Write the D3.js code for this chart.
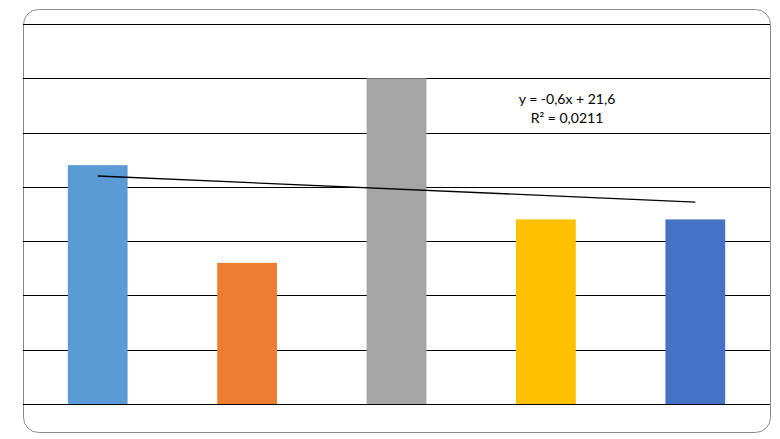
<!DOCTYPE html>
<html>
<head>
<meta charset="utf-8">
<script src="https://cdn.jsdelivr.net/npm/d3@7"></script>
<style>
  html, body { margin: 0; padding: 0; background: #fff; }
  svg { display: block; }
  .grid line { stroke: #000; stroke-width: 1; shape-rendering: crispEdges; }
  .label { font-family: Lato, "Open Sans", sans-serif; font-size: 14px; fill: #000; }
</style>
</head>
<body>
<div id="chart"></div>
<script>
// Chart data
const categories = ["1", "2", "3", "4", "5"];
const values     = [22, 13, 30, 17, 17];
const colors     = ["#5B9BD5", "#ED7D31", "#A5A5A5", "#FFC000", "#4472C4"];
const yTicks     = [0, 5, 10, 15, 20, 25, 30, 35];
const trendLabel = ["y = -0,6x + 21,6", "R² = 0,0211"];

const W = 780, H = 439;
const plot = { left: 23, right: 770, top: 24, bottom: 404 };

const svg = d3.select("#chart").append("svg")
  .attr("width", W).attr("height", H);

// Chart border
svg.append("rect")
  .attr("x", 23.5).attr("y", 9.5)
  .attr("width", 747).attr("height", 423)
  .attr("rx", 15).attr("ry", 15)
  .attr("fill", "#fff")
  .attr("stroke", "#8c8c8c");

const x = d3.scaleBand()
  .domain(categories)
  .range([plot.left, plot.right])
  .paddingInner(0.6).paddingOuter(0.3);

const y = d3.scaleLinear()
  .domain([0, 35])
  .range([plot.bottom, plot.top]);

// Gridlines
svg.append("g").attr("class", "grid")
  .selectAll("line")
  .data(yTicks).join("line")
  .attr("x1", plot.left).attr("x2", plot.right)
  .attr("y1", d => Math.round(y(d)) + 0.5)
  .attr("y2", d => Math.round(y(d)) + 0.5);

// Bars
svg.append("g").selectAll("rect")
  .data(values).join("rect")
  .attr("x", (d, i) => x(categories[i]))
  .attr("width", x.bandwidth())
  .attr("y", d => y(d))
  .attr("height", d => y(0) - y(d))
  .attr("fill", (d, i) => colors[i]);

// Linear trendline (least squares)
const xs = categories.map((c, i) => i + 1);
const mx = d3.mean(xs), my = d3.mean(values);
const slope = d3.sum(xs, (v, i) => (v - mx) * (values[i] - my)) / d3.sum(xs, v => (v - mx) ** 2);
const icpt = my - slope * mx;
const cx = i => x(categories[i]) + x.bandwidth() / 2;

svg.append("line")
  .attr("x1", cx(0)).attr("y1", y(icpt + slope * xs[0]))
  .attr("x2", cx(4)).attr("y2", y(icpt + slope * xs[4]))
  .attr("stroke", "#000").attr("stroke-width", 1.3);

// Trendline label
const lbl = svg.append("text").attr("class", "label")
  .attr("text-anchor", "middle");
lbl.selectAll("tspan")
  .data(trendLabel).join("tspan")
  .attr("x", 567)
  .attr("y", (d, i) => 104 + i * 19)
  .text(d => d);
</script>
</body>
</html>
